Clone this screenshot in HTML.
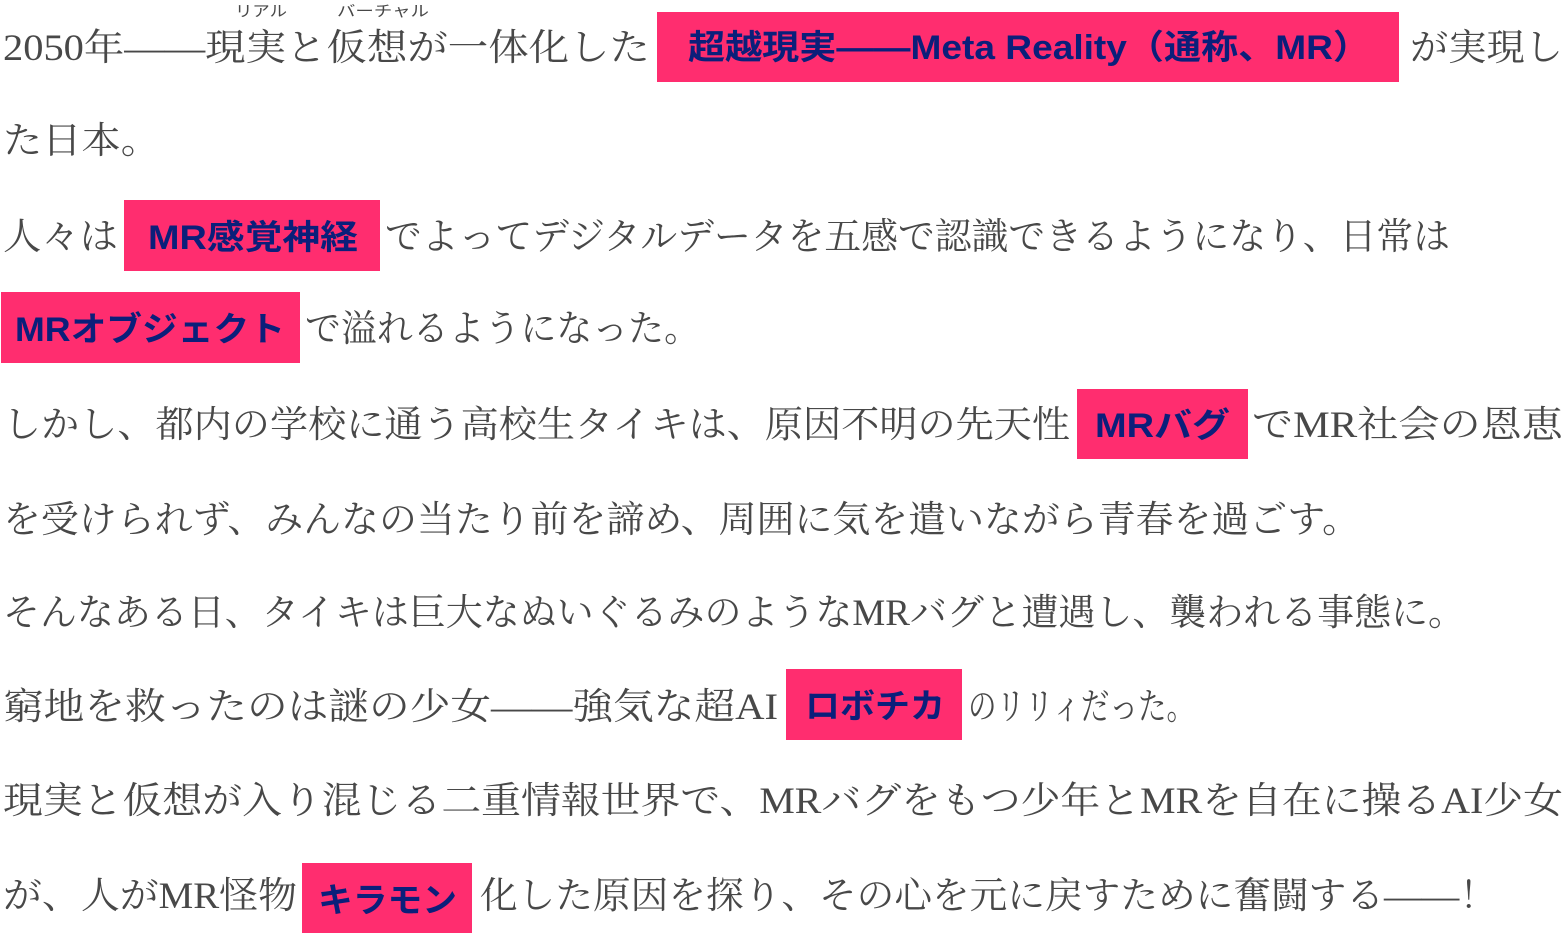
<!DOCTYPE html>
<html><head><meta charset="utf-8"><style>
html,body{margin:0;padding:0;background:#fff;width:1565px;height:935px;overflow:hidden}
.t{font-family:"Liberation Serif","Noto Serif CJK SC",serif;font-size:37px;fill:#484848}
.r{font-family:"Noto Sans CJK JP",sans-serif;font-size:15px;fill:#484848}
.b{font-family:"Liberation Sans","Noto Sans CJK JP",sans-serif;font-weight:bold;font-size:34px;fill:#0b1f7a}
rect{fill:#ff2d6f}
</style></head><body>
<svg width="1565" height="935" xmlns="http://www.w3.org/2000/svg">
<text class="r" x="235" y="16" textLength="52" lengthAdjust="spacingAndGlyphs">リアル</text>
<text class="r" x="337" y="16" textLength="92" lengthAdjust="spacingAndGlyphs">バーチャル</text>
<text class="t" x="3" y="60" textLength="647" lengthAdjust="spacingAndGlyphs">2050年——現実と仮想が一体化した</text>
<rect x="657" y="12" width="742" height="70"/>
<text class="b" x="688" y="59" textLength="682" lengthAdjust="spacingAndGlyphs">超越現実——Meta Reality（通称、MR）</text>
<text class="t" x="1410" y="60" textLength="153" lengthAdjust="spacingAndGlyphs">が実現し</text>
<text class="t" x="3" y="153" textLength="157" lengthAdjust="spacingAndGlyphs">た日本。</text>

<text class="t" x="3" y="249" textLength="115" lengthAdjust="spacingAndGlyphs">人々は</text>
<rect x="124" y="200" width="256" height="71"/>
<text class="b" x="148" y="249" textLength="210" lengthAdjust="spacingAndGlyphs">MR感覚神経</text>
<text class="t" x="385" y="249" textLength="1065" lengthAdjust="spacingAndGlyphs">でよってデジタルデータを五感で認識できるようになり、日常は</text>

<rect x="1" y="292" width="299" height="71"/>
<text class="b" x="15" y="341" textLength="270" lengthAdjust="spacingAndGlyphs">MRオブジェクト</text>
<text class="t" x="305" y="341" textLength="395" lengthAdjust="spacingAndGlyphs">で溢れるようになった。</text>

<text class="t" x="3" y="437" textLength="1067" lengthAdjust="spacingAndGlyphs">しかし、都内の学校に通う高校生タイキは、原因不明の先天性</text>
<rect x="1077" y="389" width="171" height="70"/>
<text class="b" x="1095" y="437" textLength="135" lengthAdjust="spacingAndGlyphs">MRバグ</text>
<text class="t" x="1252" y="437" textLength="311" lengthAdjust="spacingAndGlyphs">でMR社会の恩恵</text>

<text class="t" x="3" y="532" textLength="1357" lengthAdjust="spacingAndGlyphs">を受けられず、みんなの当たり前を諦め、周囲に気を遣いながら青春を過ごす。</text>
<text class="t" x="3" y="625" textLength="1462" lengthAdjust="spacingAndGlyphs">そんなある日、タイキは巨大なぬいぐるみのようなMRバグと遭遇し、襲われる事態に。</text>

<text class="t" x="3" y="719" textLength="775" lengthAdjust="spacingAndGlyphs">窮地を救ったのは謎の少女——強気な超AI</text>
<rect x="786" y="669" width="176" height="71"/>
<text class="b" x="805" y="718" textLength="140" lengthAdjust="spacingAndGlyphs">ロボチカ</text>
<text class="t" x="968" y="719" textLength="227" lengthAdjust="spacingAndGlyphs">のリリィだった。</text>

<text class="t" x="3" y="813" textLength="1560" lengthAdjust="spacingAndGlyphs">現実と仮想が入り混じる二重情報世界で、MRバグをもつ少年とMRを自在に操るAI少女</text>

<text class="t" x="3" y="908" textLength="294" lengthAdjust="spacingAndGlyphs">が、人がMR怪物</text>
<rect x="302" y="863" width="170" height="70"/>
<text class="b" x="318" y="912" textLength="139" lengthAdjust="spacingAndGlyphs">キラモン</text>
<text class="t" x="480" y="908" textLength="1017" lengthAdjust="spacingAndGlyphs">化した原因を探り、その心を元に戻すために奮闘する——！</text>
</svg>
</body></html>
